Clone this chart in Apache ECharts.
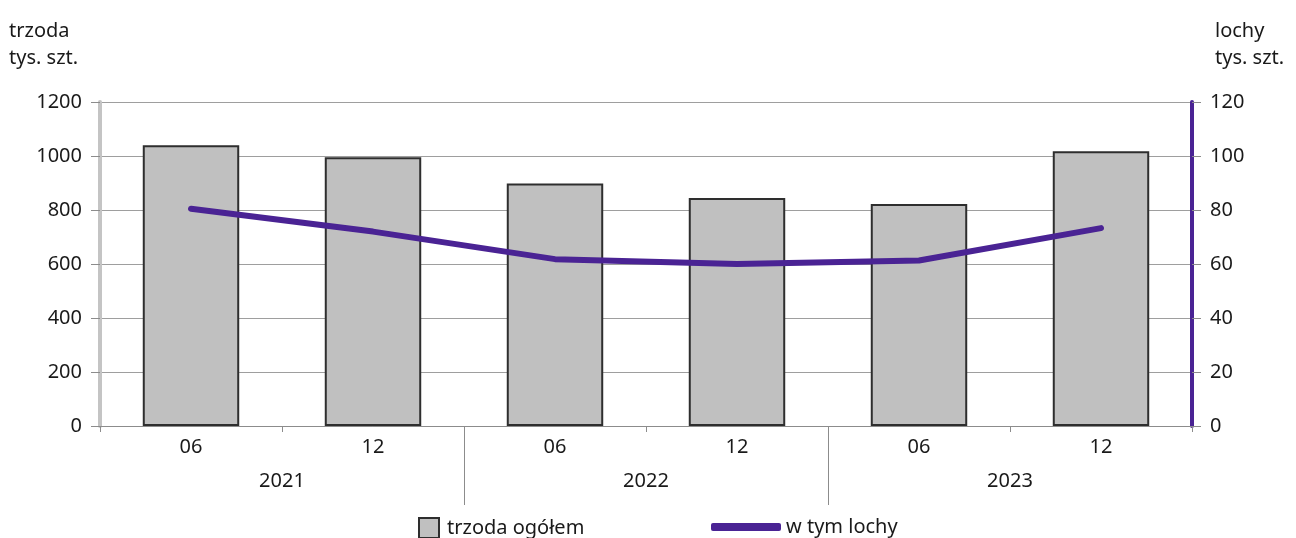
<!DOCTYPE html>
<html>
<head>
<meta charset="utf-8">
<script src="https://cdn.jsdelivr.net/npm/echarts@6/dist/echarts.min.js"></script>
<style>
html,body{margin:0;padding:0;background:#fff;}
#chart{width:1296px;height:538px;}
</style>
</head>
<body>
<div id="chart"></div>
<script>
// ---- data ----
const years = ['2021', '2021', '2022', '2022', '2023', '2023'];
const months = ['06', '12', '06', '12', '06', '12'];
const yearLabels = ['2021', '2022', '2023'];
const trzodaOgolem = [1040, 995, 898, 844, 822, 1018];
const wTymLochy = [80.5, 72, 61.8, 60, 61.3, 73.3];
const leftTicks = [0, 200, 400, 600, 800, 1000, 1200];
const rightTicks = [0, 20, 40, 60, 80, 100, 120];

const categories = years.map((y, i) => y + '-' + months[i]);
// boundaries between years (positions in category units)
const yearBoundaries = [];
for (let i = 1; i < years.length; i++) if (years[i] !== years[i - 1]) yearBoundaries.push(i);

const FONT = 'Noto Sans';
const TXT = '#1a1a1a';
const GRAY = '#8c8c8c';
const PURPLE = '#4a2394';

const chart = echarts.init(document.getElementById('chart'));
chart.setOption({
  animation: false,
  textStyle: { fontFamily: FONT, color: TXT },
  title: [
    { text: 'trzoda\ntys. szt.', left: 4, top: 13,
      textStyle: { fontFamily: FONT, fontSize: 20, fontWeight: 'normal', color: TXT, lineHeight: 27 } },
    { text: 'lochy\ntys. szt.', left: 1210, top: 13,
      textStyle: { fontFamily: FONT, fontSize: 20, fontWeight: 'normal', color: TXT, lineHeight: 27 } }
  ],
  legend: [
    { left: 413, top: 512, itemWidth: 20, itemHeight: 20, icon: 'rect',
      data: ['trzoda ogółem'],
      textStyle: { fontFamily: FONT, fontSize: 20, color: TXT, padding: [0, 0, 0, 3] } },
    { left: 706, top: 512, itemWidth: 70, itemHeight: 8,
      data: [{ name: 'w tym lochy', icon: 'roundRect' }],
      textStyle: { fontFamily: FONT, fontSize: 20, color: TXT, padding: [0, 0, 0, 0] } }
  ],
  grid: { left: 100, right: 104, top: 102, bottom: 112 },
  xAxis: [
    {
      type: 'category', data: categories, position: 'bottom',
      axisLine: { lineStyle: { color: GRAY, width: 1 } },
      axisTick: { show: true, interval: 0, length: 6, lineStyle: { color: GRAY } },
      axisLabel: { margin: 11, fontSize: 20, color: TXT, fontFamily: FONT,
        formatter: v => v.split('-')[1] }
    },
    {
      type: 'category', data: yearLabels, position: 'bottom',
      axisLine: { show: false }, axisTick: { show: false },
      axisLabel: { margin: 45, fontSize: 20, color: TXT, fontFamily: FONT }
    },
    {
      type: 'value', min: 0, max: categories.length, position: 'bottom',
      axisLine: { show: false },
      axisTick: { show: true, customValues: yearBoundaries, length: 79, lineStyle: { color: GRAY } },
      axisLabel: { show: false }, splitLine: { show: false }
    }
  ],
  yAxis: [
    {
      type: 'value', min: leftTicks[0], max: leftTicks[leftTicks.length - 1], interval: leftTicks[1] - leftTicks[0], position: 'left',
      axisLine: { show: true, lineStyle: { color: '#c4c4c4', width: 4 } },
      axisTick: { show: true, length: 9, lineStyle: { color: GRAY } },
      axisLabel: { margin: 18, fontSize: 20, color: TXT, fontFamily: FONT, formatter: v => String(v) },
      splitLine: { show: true, lineStyle: { color: '#9e9e9e', width: 1 } }
    },
    {
      type: 'value', min: rightTicks[0], max: rightTicks[rightTicks.length - 1], interval: rightTicks[1] - rightTicks[0], position: 'right',
      axisLine: { show: true, lineStyle: { color: PURPLE, width: 4 } },
      axisTick: { show: true, length: 9, lineStyle: { color: GRAY } },
      axisLabel: { margin: 18, fontSize: 20, color: TXT, fontFamily: FONT, formatter: v => String(v) },
      splitLine: { show: false }
    }
  ],
  series: [
    {
      name: 'trzoda ogółem', type: 'bar', xAxisIndex: 0, yAxisIndex: 0,
      data: trzodaOgolem, barWidth: '53%',
      itemStyle: { color: '#c0c0c0', borderColor: '#2e2e2e', borderWidth: 2 }
    },
    {
      name: 'w tym lochy', type: 'line', xAxisIndex: 0, yAxisIndex: 1,
      data: wTymLochy, symbol: 'none', smooth: false, color: PURPLE,
      itemStyle: { color: PURPLE },
      lineStyle: { color: PURPLE, width: 6, cap: 'round', join: 'round' }
    }
  ]
});
</script>
</body>
</html>
